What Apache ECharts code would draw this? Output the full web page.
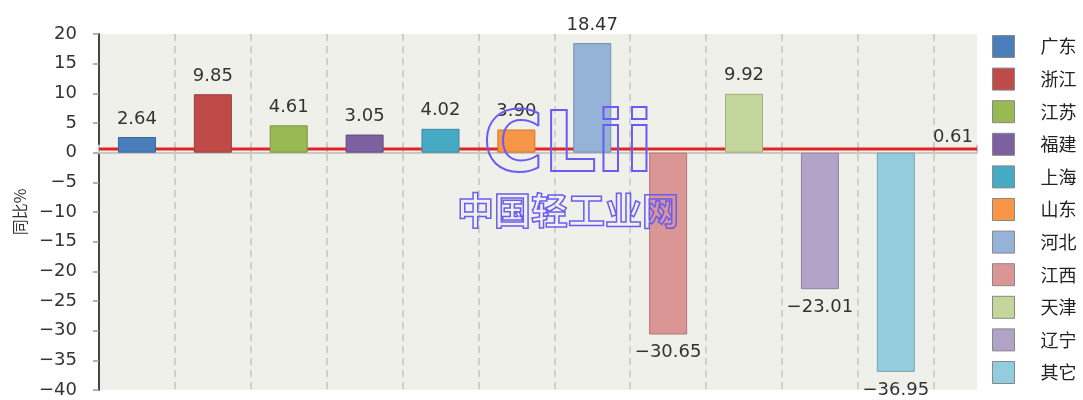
<!DOCTYPE html>
<html>
<head>
<meta charset="utf-8">
<script src="https://cdn.jsdelivr.net/npm/echarts@6/dist/echarts.min.js"></script>
<style>
  html, body { margin: 0; padding: 0; background: #fff; }
  #chart { width: 1083px; height: 400px; }
</style>
</head>
<body>
<div id="chart"></div>
<script>
// 各省份同比增长
const provinces = ['广东', '浙江', '江苏', '福建', '上海', '山东', '河北', '江西', '天津', '辽宁', '其它']
const growth = [2.64, 9.85, 4.61, 3.05, 4.02, 3.90, 18.47, -30.65, 9.92, -23.01, -36.95]
const average = 0.61
const yMin = -40
const yMax = 20
const yStep = 5

const colors = ['#4a7ebb', '#be4b48', '#98b954', '#7d60a0', '#46aac5', '#f79646', '#95b3d7', '#d99694', '#c3d69b', '#b3a2c7', '#93cddd']
const borders = ['#3a659a', '#9a3c3a', '#7a9543', '#624b80', '#37889e', '#c87833', '#7690b0', '#b07574', '#9cad7a', '#8f81a0', '#74a5b2']

const fmt = (v) => v.toFixed(2).replace('-', '\u2212')
const numFont = 'DejaVu Sans'
const xMax = 11.57 // 绘图区比 11 个分组略宽

const series = provinces.map((name, i) => ({
  name,
  type: 'bar',
  barWidth: 38,
  barGap: '-100%',
  z: 3,
  data: [[i + 0.5, growth[i]]],
  itemStyle: { color: colors[i], borderColor: borders[i], borderWidth: 1 },
  label: {
    show: true,
    position: growth[i] < 0 ? 'bottom' : 'top',
    distance: 9,
    color: '#333',
    fontFamily: numFont,
    fontSize: 18,
    formatter: (p) => fmt(p.value[1])
  }
}))

// 平均线
series.push({
  name: 'avg',
  type: 'line',
  z: 1,
  symbol: 'circle',
  symbolSize: 0,
  showSymbol: true,
  silent: true,
  lineStyle: { color: '#e42424', width: 3 },
  data: [
    [0, average],
    {
      value: [xMax, average],
      label: {
        show: true,
        position: 'top',
        align: 'right',
        offset: [-4, 2],
        color: '#333',
        fontFamily: numFont,
        fontSize: 18,
        formatter: () => fmt(average)
      }
    }
  ]
})

const option = {
  animation: false,
  grid: {
    left: 99,
    right: 106,
    top: 34,
    bottom: 10,
    show: true,
    backgroundColor: '#f0f0ea',
    borderWidth: 0
  },
  legend: {
    data: provinces,
    orient: 'vertical',
    left: 992,
    top: 35,
    height: 365,
    padding: 0,
    itemWidth: 22,
    itemHeight: 22,
    itemGap: 9.6,
    icon: 'rect',
    itemStyle: { borderColor: '#888', borderWidth: 1 },
    textStyle: {
      color: '#222',
      fontFamily: 'Noto Sans CJK SC',
      fontSize: 18,
      lineHeight: 20,
      padding: [0, 0, 0, 21]
    }
  },
  xAxis: {
    type: 'value',
    min: 0,
    max: xMax,
    interval: 1,
    offset: 8,
    axisLine: { show: true, lineStyle: { color: '#c8c8c8', width: 2 } },
    axisTick: { show: true, inside: true, length: 8, lineStyle: { color: '#c8c8c8', width: 2 } },
    axisLabel: { show: false },
    splitLine: {
      show: true,
      showMinLine: false,
      showMaxLine: false,
      lineStyle: { color: '#c4c4c4', type: [7, 5], width: 1.5 }
    }
  },
  yAxis: {
    type: 'value',
    min: yMin,
    max: yMax,
    interval: yStep,
    offset: 11,
    name: '同比%',
    nameLocation: 'middle',
    nameGap: 58,
    nameTextStyle: { color: '#333', fontFamily: 'Noto Sans CJK SC', fontSize: 16 },
    axisLine: { show: true, lineStyle: { color: '#444', width: 2 } },
    axisTick: { show: true, length: 6, lineStyle: { color: '#999', width: 1.5 } },
    axisLabel: {
      color: '#333',
      fontFamily: numFont,
      fontSize: 18,
      margin: 11,
      formatter: (v) => String(v).replace('-', '\u2212')
    },
    splitLine: { show: false }
  },
  graphic: [
    {
      type: 'text',
      z: 100,
      silent: true,
      style: {
        text: 'CLii',
        x: 568,
        y: 149,
        align: 'center',
        verticalAlign: 'middle',
        fontFamily: 'DejaVu Sans',
        fontWeight: 'bold',
        fontSize: 83,
        fill: 'rgba(255,255,255,0)',
        stroke: '#6a5cf2',
        lineWidth: 2
      }
    },
    {
      type: 'text',
      z: 100,
      silent: true,
      style: {
        text: '中国轻工业网',
        x: 568,
        y: 211,
        align: 'center',
        verticalAlign: 'middle',
        fontFamily: 'Noto Sans CJK SC',
        fontWeight: 'bold',
        fontSize: 37,
        fill: 'rgba(255,255,255,0)',
        stroke: '#6a5cf2',
        lineWidth: 1.5
      }
    }
  ],
  series
}

const myChart = echarts.init(document.getElementById('chart'))
option && myChart.setOption(option)
</script>
</body>
</html>
